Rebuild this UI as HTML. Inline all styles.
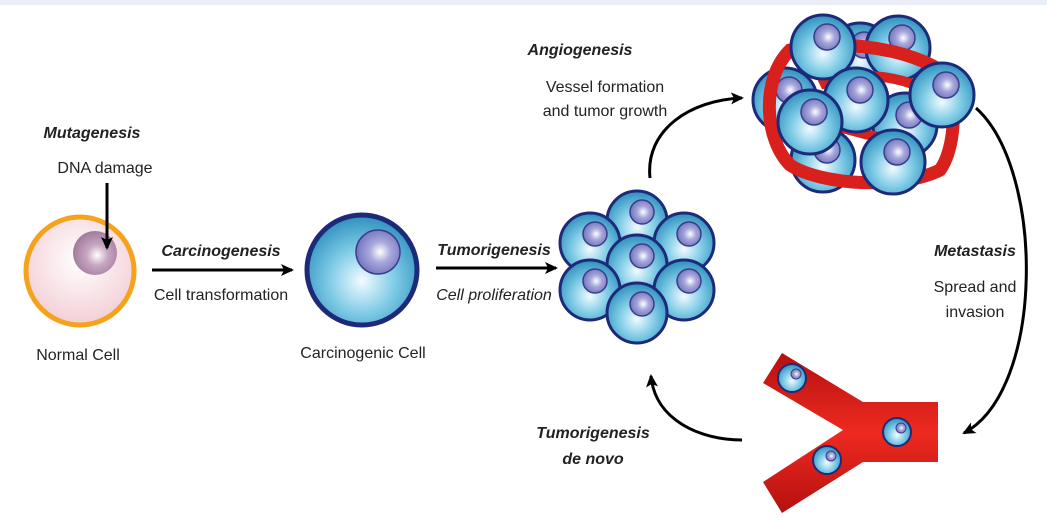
<!DOCTYPE html>
<html><head><meta charset="utf-8"><style>
html,body{margin:0;padding:0;background:#fff}
svg{display:block}
text{font-family:"Liberation Sans",sans-serif;font-size:16px;fill:#222}
.b{font-weight:bold;font-style:italic}
.i{font-style:italic}
</style></head><body>
<svg width="1047" height="520" viewBox="0 0 1047 520">
<defs>
<radialGradient id="pink" cx="0.5" cy="0.4" r="0.6"><stop offset="0" stop-color="#fff"/><stop offset="1" stop-color="#f3cfd6"/></radialGradient>
<radialGradient id="nucP" cx="0.55" cy="0.55" r="0.6"><stop offset="0" stop-color="#fff"/><stop offset="0.4" stop-color="#c7a6c0"/><stop offset="1" stop-color="#9d7598"/></radialGradient>
<radialGradient id="blue" cx="0.5" cy="0.6" r="0.6"><stop offset="0" stop-color="#f2fbff"/><stop offset="0.5" stop-color="#7fcbe6"/><stop offset="1" stop-color="#2d8fbd"/></radialGradient>
<radialGradient id="nucB" cx="0.55" cy="0.5" r="0.6"><stop offset="0" stop-color="#fff"/><stop offset="0.4" stop-color="#a7a8dc"/><stop offset="1" stop-color="#6a6cb8"/></radialGradient>
<linearGradient id="red" x1="0" y1="0" x2="0" y2="1"><stop offset="0" stop-color="#b51010"/><stop offset="0.5" stop-color="#ee2a20"/><stop offset="1" stop-color="#b51010"/></linearGradient>
<marker id="ah" markerWidth="14" markerHeight="14" refX="11" refY="7" orient="auto" markerUnits="userSpaceOnUse"><path d="M0,1 L13,7 L0,13 L3,7 Z" fill="#000"/></marker>
<g id="cell"><circle r="30" fill="url(#blue)" stroke="#1d2a7a" stroke-width="3"/><circle cx="5" cy="-9" r="12" fill="url(#nucB)" stroke="#3a3c8c" stroke-width="1.5"/></g>
<g id="bcell"><circle r="32" fill="url(#blue)" stroke="#1d2a7a" stroke-width="3"/><circle cx="4" cy="-10" r="13" fill="url(#nucB)" stroke="#3a3c8c" stroke-width="1.5"/></g>
<g id="vcell"><circle r="14" fill="url(#blue)" stroke="#1d2a7a" stroke-width="2"/><circle cx="4" cy="-4" r="5" fill="url(#nucB)" stroke="#3a3c8c" stroke-width="1"/></g>
</defs>
<rect x="0" y="0" width="1047" height="5" fill="#eceef7"/>

<g>
<circle cx="80" cy="271" r="54" fill="url(#pink)" stroke="#f5a21c" stroke-width="5"/>
<circle cx="95" cy="253" r="22" fill="url(#nucP)"/>
</g>
<line x1="107" y1="183" x2="107" y2="248" stroke="#000" stroke-width="3" marker-end="url(#ah)"/>
<text x="92" y="138" text-anchor="middle" class="b">Mutagenesis</text>
<text x="105" y="173" text-anchor="middle">DNA damage</text>
<text x="78" y="360" text-anchor="middle">Normal Cell</text>

<line x1="152" y1="270" x2="292" y2="270" stroke="#000" stroke-width="3" marker-end="url(#ah)"/>
<text x="221" y="256" text-anchor="middle" class="b">Carcinogenesis</text>
<text x="221" y="300" text-anchor="middle">Cell transformation</text>

<g>
<circle cx="362" cy="270" r="55" fill="url(#blue)" stroke="#1d2a7a" stroke-width="5"/>
<circle cx="378" cy="252" r="22" fill="url(#nucB)" stroke="#3a3c8c" stroke-width="1.5"/>
</g>
<text x="363" y="358" text-anchor="middle">Carcinogenic Cell</text>

<line x1="436" y1="268" x2="556" y2="268" stroke="#000" stroke-width="3" marker-end="url(#ah)"/>
<text x="494" y="255" text-anchor="middle" class="b">Tumorigenesis</text>
<text x="494" y="300" text-anchor="middle" class="i">Cell proliferation</text>

<g>
<use href="#cell" x="637" y="221"/>
<use href="#cell" x="590" y="243"/>
<use href="#cell" x="684" y="243"/>
<use href="#cell" x="637" y="265"/>
<use href="#cell" x="590" y="290"/>
<use href="#cell" x="684" y="290"/>
<use href="#cell" x="637" y="313"/>
</g>

<g>
<use href="#bcell" x="860" y="55"/>
<use href="#bcell" x="898" y="48"/>
<use href="#bcell" x="785" y="100"/>
<use href="#bcell" x="823" y="160"/>
<use href="#bcell" x="905" y="125"/>
<path d="M790,50 C830,40 900,45 940,70 C960,95 955,150 940,170 C900,190 820,185 790,165 C765,140 760,80 790,50 Z" fill="none" stroke="#d8201c" stroke-width="13"/>
<path d="M820,85 C850,70 900,75 925,90 M815,120 C850,130 880,140 905,140" fill="none" stroke="#d8201c" stroke-width="10"/>
<use href="#bcell" x="823" y="47"/>
<use href="#bcell" x="856" y="100"/>
<use href="#bcell" x="942" y="95"/>
<use href="#bcell" x="810" y="122"/>
<use href="#bcell" x="893" y="162"/>
</g>

<g>
<polygon points="782,353 863,402 938,402 938,462 863,462 782,513 763,482 843,430 763,383" fill="url(#red)"/>
<use href="#vcell" x="792" y="378"/>
<use href="#vcell" x="897" y="432"/>
<use href="#vcell" x="827" y="460"/>
</g>

<path d="M650,178 C645,130 690,100 742,98" fill="none" stroke="#000" stroke-width="3" marker-end="url(#ah)"/>
<path d="M976,108 C1045,170 1045,390 964,433" fill="none" stroke="#000" stroke-width="3" marker-end="url(#ah)"/>
<path d="M742,440 C700,440 655,420 651,376" fill="none" stroke="#000" stroke-width="3" marker-end="url(#ah)"/>

<text x="580" y="55" text-anchor="middle" class="b">Angiogenesis</text>
<text x="605" y="92" text-anchor="middle">Vessel formation</text>
<text x="605" y="116" text-anchor="middle">and tumor growth</text>
<text x="975" y="256" text-anchor="middle" class="b">Metastasis</text>
<text x="975" y="292" text-anchor="middle">Spread and</text>
<text x="975" y="317" text-anchor="middle">invasion</text>
<text x="593" y="438" text-anchor="middle" class="b">Tumorigenesis</text>
<text x="593" y="464" text-anchor="middle" class="b">de novo</text>
</svg>
</body></html>
